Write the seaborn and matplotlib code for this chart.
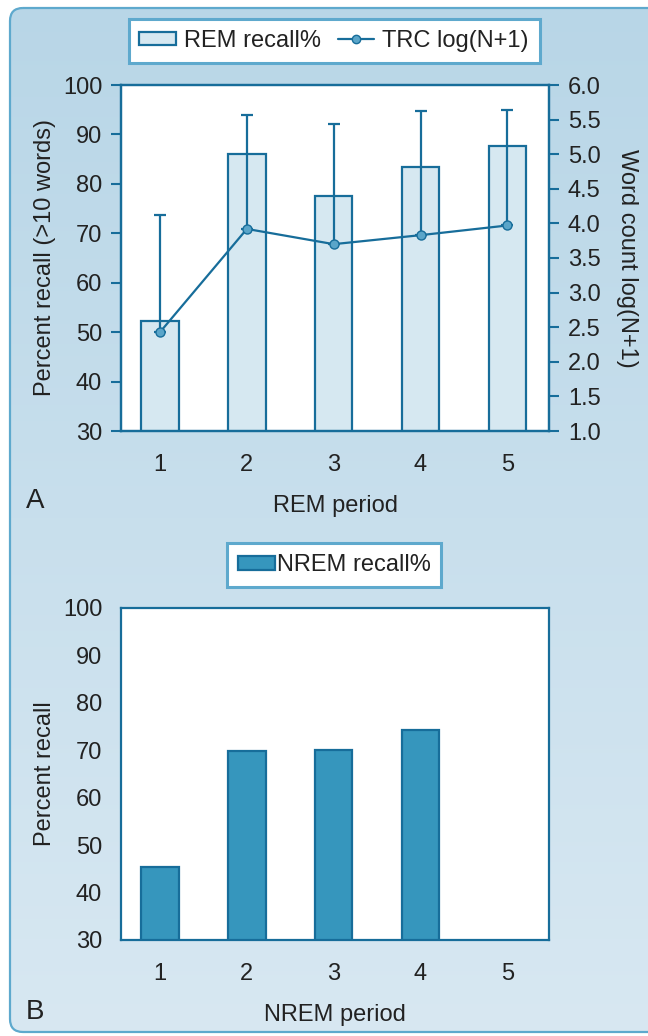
import numpy as np
import matplotlib
matplotlib.use("Agg")
import matplotlib.pyplot as plt
from matplotlib.patches import FancyBboxPatch, Patch
from matplotlib.lines import Line2D
import seaborn as sns

# ---- data ----
rem_periods = ["1", "2", "3", "4", "5"]
rem_recall = [52.2, 86.0, 77.6, 83.5, 87.7]          # % recall (>10 words)
trc_log = [2.43, 3.92, 3.70, 3.83, 3.97]              # word count log(N+1)
trc_sd = [1.69, 1.64, 1.73, 1.80, 1.67]               # upper error bars

nrem_periods = ["1", "2", "3", "4", "5"]
nrem_recall = [45.3, 69.9, 70.1, 74.2, np.nan]        # % recall

left_ticks = [30, 40, 50, 60, 70, 80, 90, 100]
right_ticks = [1.0, 1.5, 2.0, 2.5, 3.0, 3.5, 4.0, 4.5, 5.0, 5.5, 6.0]

# ---- style ----
sns.set_theme(style="white")
plt.rcParams["font.family"] = ["Liberation Sans", "DejaVu Sans"]

DARK = "#176d9a"
LIGHT_FILL = "#d6e8f1"
MID_FILL = "#3696bd"
MARKER = "#5aa5c9"
FRAME = "#5ea9cd"
TEXT = "#222222"
FS = 17

W, H = 648, 1036
fig = plt.figure(figsize=(W / 100, H / 100), dpi=100)
fig.patch.set_facecolor("white")

# background panel with a soft vertical gradient
bg = fig.add_axes([0, 0, 1, 1], zorder=-10)
bg.set_xlim(0, W)
bg.set_ylim(H, 0)
bg.axis("off")
panel = FancyBboxPatch((10, 8), W + 20, H - 12,
                       boxstyle="round,pad=0,rounding_size=13",
                       facecolor="none", edgecolor=FRAME, linewidth=1.6,
                       zorder=3)
bg.add_patch(panel)
top_c = np.array([184, 214, 231]) / 255
bot_c = np.array([216, 232, 242]) / 255
t = np.linspace(0, 1, 256)[:, None, None]
grad = top_c * (1 - t) + bot_c * t
grad = np.repeat(grad, 2, axis=1)
im = bg.imshow(grad, extent=(0, W, H, 0), aspect="auto", zorder=1)
im.set_clip_path(panel)


def style_axis(ax):
    ax.set_facecolor("white")
    for s in ax.spines.values():
        s.set_color(DARK)
        s.set_linewidth(1.6)
    ax.tick_params(axis="both", direction="out", length=7.5, width=1.5,
                   color=DARK, labelcolor=TEXT, labelsize=FS, pad=6)
    ax.tick_params(axis="x", pad=9)


# ---- panel A ----
ax = fig.add_axes([121 / W, 1 - 431 / H, 428 / W, 346 / H])
sns.barplot(x=rem_periods, y=rem_recall, order=rem_periods, ax=ax,
            width=0.43, color=LIGHT_FILL, edgecolor=DARK, linewidth=1.6,
            errorbar=None, saturation=1, zorder=2)
ax.set_ylim(30, 100)
ax.set_yticks(left_ticks)
ax.set_xlim(-0.45, 4.48)
style_axis(ax)
ax.set_xlabel("REM period", fontsize=FS, color=TEXT, labelpad=14)
ax.set_ylabel("Percent recall (>10 words)", fontsize=FS, color=TEXT, labelpad=5)

ax2 = ax.twinx()
xpos = np.arange(len(rem_periods))
ax2.errorbar(xpos, trc_log, yerr=[np.zeros(len(trc_sd)), trc_sd], fmt="none",
             ecolor=DARK, elinewidth=1.6, capsize=4, capthick=1.6, zorder=3)
sns.lineplot(x=xpos, y=trc_log, ax=ax2, color=DARK, linewidth=1.6,
             marker="o", markersize=6.5, markerfacecolor=MARKER,
             markeredgecolor=DARK, markeredgewidth=1.0, zorder=4)
ax2.set_ylim(1.0, 6.0)
ax2.set_yticks(right_ticks)
ax2.set_yticklabels([f"{v:.1f}" for v in right_ticks])
ax2.set_xlim(-0.45, 4.48)
style_axis(ax2)
ax2.set_ylabel("Word count log(N+1)", fontsize=FS, color=TEXT,
               rotation=-90, labelpad=27)
ax2.set_xlabel("")

fig.text(26 / W, 1 - 501 / H, "A", fontsize=20, color=TEXT, va="center")

leg_a = fig.legend(
    handles=[Patch(facecolor=LIGHT_FILL, edgecolor=DARK, linewidth=1.6,
                   label="REM recall%"),
             Line2D([0], [0], color=DARK, linewidth=1.6, marker="o",
                    markersize=6, markerfacecolor=MARKER,
                    markeredgecolor=DARK, label="TRC log(N+1)")],
    loc="center", bbox_to_anchor=(334 / W, 1 - 41 / H), ncol=2,
    fontsize=FS, frameon=True, fancybox=False, framealpha=1,
    handlelength=1.55, handleheight=0.5, handletextpad=0.35,
    columnspacing=0.7, borderpad=0.45, borderaxespad=0.3)
leg_a.get_frame().set_edgecolor(FRAME)
leg_a.get_frame().set_linewidth(2.2)
for txt in leg_a.get_texts():
    txt.set_color(TEXT)

# ---- panel B ----
axb = fig.add_axes([121 / W, 1 - 940 / H, 428 / W, 332 / H])
sns.barplot(x=nrem_periods, y=nrem_recall, order=nrem_periods, ax=axb,
            width=0.43, color=MID_FILL, edgecolor=DARK, linewidth=1.6,
            errorbar=None, saturation=1, zorder=2)
axb.set_ylim(30, 100)
axb.set_yticks(left_ticks)
axb.set_xlim(-0.45, 4.48)
style_axis(axb)
axb.set_xlabel("NREM period", fontsize=FS, color=TEXT, labelpad=14)
axb.set_ylabel("Percent recall", fontsize=FS, color=TEXT, labelpad=5)

fig.text(26 / W, 1 - 1012 / H, "B", fontsize=20, color=TEXT, va="center")

leg_b = fig.legend(
    handles=[Patch(facecolor=MID_FILL, edgecolor=DARK, linewidth=1.6,
                   label="NREM recall%")],
    loc="center", bbox_to_anchor=(334 / W, 1 - 565 / H),
    fontsize=FS, frameon=True, fancybox=False, framealpha=1,
    handlelength=1.6, handleheight=0.55, handletextpad=0.05,
    borderpad=0.45)
leg_b.get_frame().set_edgecolor(FRAME)
leg_b.get_frame().set_linewidth(2.2)
for txt in leg_b.get_texts():
    txt.set_color(TEXT)

fig.savefig("out.png", dpi=100, facecolor=fig.get_facecolor())
